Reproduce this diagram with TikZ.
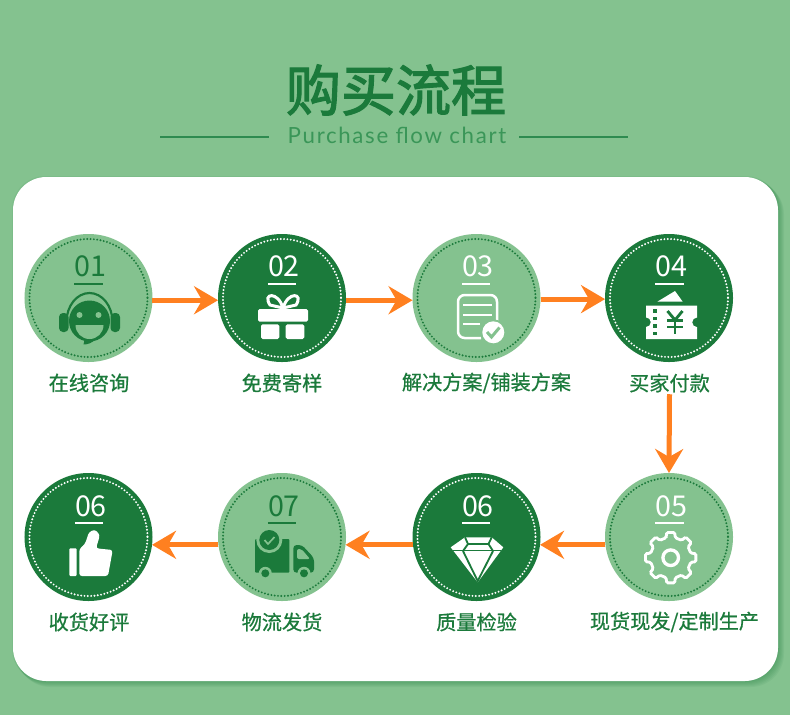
\documentclass[tikz,border=0pt]{standalone}
\usepackage{fontspec}
\setmainfont{Noto Sans CJK SC}
\newfontfamily\latinfont{Lato}
\newfontfamily\labfont[FakeBold=0.7]{Noto Sans CJK SC}
\newfontfamily\titlefont[FakeBold=2.2]{Noto Sans CJK SC}
\usetikzlibrary{arrows.meta,positioning,calc}
\definecolor{bggreen}{RGB}{132,194,143}
\definecolor{deepgreen}{RGB}{27,122,59}
\definecolor{linegreen}{RGB}{46,139,80}
\definecolor{subgreen}{RGB}{58,150,88}
\definecolor{flow}{RGB}{255,128,32}

\begin{document}
\begin{tikzpicture}[
    x=0.03cm, y=-0.03cm,
    stepdark/.style={circle,fill=deepgreen,minimum size=3.84cm,inner sep=0pt,outer sep=0pt},
    steplight/.style={circle,fill=bggreen,minimum size=3.84cm,inner sep=0pt,outer sep=0pt},
    ring/.style={#1,line width=0.065cm,line cap=round,dash pattern=on 0pt off 0.1cm},
    num/.style={text=#1,font=\fontsize{24.5}{24.5}\selectfont,text width=0.84cm,align=center,
                text height=0.54cm,text depth=0.21cm,inner sep=0pt},
    numrule/.style={draw=#1,line width=0.05cm},
    lab/.style={text=deepgreen,font=\labfont\fontsize{17.2}{20}\selectfont,inner sep=0pt,minimum height=0.66cm},
    arr/.style={-{Stealth[length=0.72cm,width=0.84cm,inset=0.24cm]},line width=0.15cm,flow},
    headrule/.style={draw=linegreen,line width=0.05cm}]

    \useasboundingbox (0,0) rectangle (790,715);
    \fill[bggreen] (0,0) rectangle (790,715);

    % Heading
    \node[text=deepgreen,font=\titlefont\fontsize{47}{47}\selectfont,inner sep=0pt] (title) at (396,90) {购买流程};
    \node[text=subgreen,font=\latinfont\fontsize{19}{19}\selectfont,inner sep=0pt] (subtitle) at (397,135)
      {\addfontfeatures{LetterSpace=7.5}Purchase flow chart};
    \coordinate (hl1) at (160,137); \coordinate (hl2) at (269,137);
    \coordinate (hr1) at (519,137); \coordinate (hr2) at (628,137);
    \draw[headrule] (hl1) -- (hl2);
    \draw[headrule] (hr1) -- (hr2);

    % Card
    \foreach \s in {6,5,...,1}
      \fill[deepgreen,opacity=0.07,rounded corners=1cm] (13+\s-2,177+\s-2) rectangle (778+\s,681+\s);
    \fill[white,rounded corners=1cm] (13,177) rectangle (778,681);

    % Top row
    \node[steplight] (c01) at (88.5,298) {};
    \node[stepdark]  (c02) at (282,298) {};
    \node[steplight] (c03) at (476.5,298) {};
    \node[stepdark]  (c04) at (669,298) {};

    % Bottom row
    \node[stepdark]  (c08) at (88.5,537) {};
    \node[steplight] (c07) at (282,537) {};
    \node[stepdark]  (c06) at (476.5,537) {};
    \node[steplight] (c05) at (669,537) {};

    % Dotted rings
    \draw[ring=deepgreen] (c01) circle (59);
    \draw[ring=white]     (c02) circle (59);
    \draw[ring=deepgreen] (c03) circle (59);
    \draw[ring=white]     (c04) circle (59);
    \draw[ring=white]     (c08) circle (59);
    \draw[ring=deepgreen] (c07) circle (59);
    \draw[ring=white]     (c06) circle (59);
    \draw[ring=deepgreen] (c05) circle (59);

    % Numbers
    \node[num=deepgreen] (n01) at (88.5,271) {01};
    \node[num=white]     (n02) at (282,271) {02};
    \node[num=white]     (n03) at (476,271) {03};
    \node[num=white]     (n04) at (669.5,271) {04};
    \node[num=white]     (n08) at (89,510.5) {06};
    \node[num=deepgreen] (n07) at (282,510.5) {07};
    \node[num=white]     (n06) at (476,510.5) {06};
    \node[num=white]     (n05) at (669.5,510.5) {05};
    \draw[numrule=deepgreen] (n01.south west) -- (n01.south east);
    \draw[numrule=white]     (n02.south west) -- (n02.south east);
    \draw[numrule=white]     (n03.south west) -- (n03.south east);
    \draw[numrule=white]     (n04.south west) -- (n04.south east);
    \draw[numrule=white]     (n08.south west) -- (n08.south east);
    \draw[numrule=deepgreen] (n07.south west) -- (n07.south east);
    \draw[numrule=white]     (n06.south west) -- (n06.south east);
    \draw[numrule=white]     (n05.south west) -- (n05.south east);

    % Labels
    \node[lab] (l01) at (89,383) {在线咨询};
    \node[lab] (l02) at (282,383) {免费寄样};
    \node[lab] (l03) at (486.5,383) {解决方案/铺装方案};
    \node[lab] (l04) at (669.5,383) {买家付款};
    \node[lab] (l08) at (89,622) {收货好评};
    \node[lab] (l07) at (282,622) {物流发货};
    \node[lab] (l06) at (476.5,622) {质量检验};
    \node[lab] (l05) at (674.5,622) {现货现发/定制生产};

    % Arrows
    \draw[arr] (c01.-2) -- (c02.182);
    \draw[arr] (c02.-2) -- (c03.182);
    \draw[arr] (c03.-1) -- (c04.181);
    \draw[arr] (l04.south) -- (c05.north);
    \draw[arr] (c05.187) -- (c06.-7);
    \draw[arr] (c06.187) -- (c07.-7);
    \draw[arr] (c07.187) -- (c08.-7);

    % Headset
    \begin{scope}[shift={(89.5,0)}]
      \fill[deepgreen] (0,321) circle (20.5);
      \fill[deepgreen] (-5,340) -- (-6,344.5) .. controls (-2,344.5) and (3,343) .. (6,339) -- cycle;
      \draw[deepgreen,line width=0.065cm] (-23,322) arc (180:360:23 and 29);
      \fill[deepgreen,rounded corners=0.12cm] (-30.5,313) rectangle (-21,332);
      \fill[deepgreen,rounded corners=0.12cm] (21,313) rectangle (30.5,332);
      \fill[bggreen] (-10,315) circle (3);
      \fill[bggreen] (9,315) circle (3);
      \fill[bggreen] (-14,325) -- (14,325) arc (0:180:14) -- cycle;
    \end{scope}

    % Gift
    \draw[white,line width=0.09cm] (283,308) .. controls (278,291) and (262,293) .. (270,305) -- (283,308);
    \draw[white,line width=0.09cm] (283,308) .. controls (288,291) and (304,293) .. (296,305) -- (283,308);
    \fill[white,rounded corners=0.05cm] (258,309) rectangle (308,321.7);
    \fill[white,rounded corners=0.05cm] (261,324.3) rectangle (279.3,339);
    \fill[white,rounded corners=0.05cm] (285.7,324.3) rectangle (304.3,339);

    % Document
    \draw[white,line width=0.075cm,rounded corners=0.2cm] (481,338) -- (458,338) -- (458,295) -- (497,295) -- (497,322);
    \draw[white,line width=0.075cm] (463,305) -- (492,305);
    \draw[white,line width=0.075cm] (463,315) -- (492,315);
    \draw[white,line width=0.075cm] (463,324) -- (480,324);
    \fill[bggreen] (493.3,332.3) circle (13);
    \fill[white] (493.3,332.3) circle (11);
    \draw[bggreen,line width=0.09cm] (487,332) -- (491.5,337) -- (499.5,327.5);

    % Ticket
    \fill[white] (657.3,301.7) -- (675,291) -- (682.7,301.7) -- cycle;
    \fill[white] (646,305.7) -- (697,305.7) -- (697,317.5) arc (270:90:4.8) -- (697,339) -- (646,339) -- (646,327) arc (90:-90:4.8) -- cycle;
    \foreach \y in {310.7,318.3,326,333.3} \fill[deepgreen] (653.2,\y-1.8) rectangle (656.8,\y+1.8);
    \draw[deepgreen,line width=0.085cm] (667.5,311) -- (675,320) -- (682.5,311);
    \draw[deepgreen,line width=0.085cm] (675,320) -- (675,333.5);
    \draw[deepgreen,line width=0.08cm] (667,320.5) -- (683,320.5);
    \draw[deepgreen,line width=0.08cm] (667,327) -- (683,327);

    % Gear
    \begin{scope}[shift={(670.7,557.7)}]
      \draw[white,line width=0.085cm,rounded corners=0.04cm] (-103:20.5)
        \foreach \a in {-90,-45,...,225} { -- (\a-13:20.5) -- (\a-9:25.5) -- (\a+9:25.5) -- (\a+13:20.5) } -- cycle;
      \draw[white,line width=0.1cm] (0,0) circle (7.8);
    \end{scope}

    % Diamond
    \fill[white] (465,537.3) -- (491.7,537.3) -- (503.3,547.3) -- (477.7,582.3) -- (450.7,547.3) -- cycle;
    \draw[deepgreen,line width=0.055cm] (453,550.5) -- (501,550.5);
    \draw[deepgreen,line width=0.055cm] (468,544) -- (488.5,544);
    \draw[deepgreen,line width=0.055cm] (465,537.3) -- (468,544) -- (463,551);
    \draw[deepgreen,line width=0.055cm] (491.7,537.3) -- (488.5,544) -- (493,551);
    \draw[deepgreen,line width=0.055cm] (463,551) -- (477.7,581) -- (493,551);

    % Thumb
    \fill[white,rounded corners=0.03cm] (69.3,548.3) rectangle (76.7,576);
    \fill[white,rounded corners=0.08cm] (79.3,576) -- (79.3,549) -- (85,544) -- (89,532) -- (95,529.5) -- (100,535) -- (96,548.3) -- (112.7,550) -- (108,576) -- cycle;

    % Truck
    \fill[deepgreen,rounded corners=0.03cm] (255,539) rectangle (289.3,572.7);
    \fill[bggreen] (269.3,540) circle (13);
    \fill[deepgreen] (269.3,540) circle (10);
    \draw[bggreen,line width=0.05cm] (264.5,540) -- (268,544) -- (274.5,537);
    \fill[deepgreen,rounded corners=0.1cm] (293.3,545) -- (302,545) -- (314,558) -- (314,572.7) -- (293.3,572.7) -- cycle;
    \fill[bggreen,rounded corners=0.06cm] (297,549) -- (301.5,549) -- (310,559) -- (297,559) -- cycle;
    \fill[bggreen] (265.3,573.3) circle (6.5);
    \fill[bggreen] (304,573.3) circle (6.5);
    \fill[deepgreen] (265.3,573.3) circle (4);
    \fill[deepgreen] (304,573.3) circle (4);
\end{tikzpicture}
\end{document}
